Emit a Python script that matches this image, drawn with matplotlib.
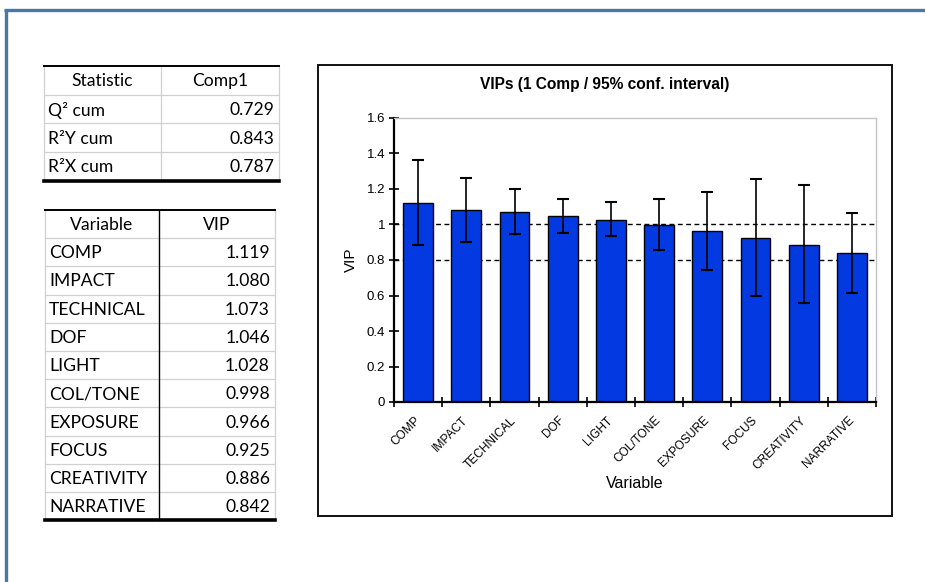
import numpy as np
import matplotlib.pyplot as plt
from matplotlib.patches import Rectangle
from matplotlib.ticker import FixedLocator, NullFormatter

# model summary
stat_names = ['Q² cum', 'R²Y cum', 'R²X cum']
stat_values = [0.729, 0.843, 0.787]

# variable importance with 95% confidence bounds
variables = ['COMP', 'IMPACT', 'TECHNICAL', 'DOF', 'LIGHT', 'COL/TONE',
             'EXPOSURE', 'FOCUS', 'CREATIVITY', 'NARRATIVE']
vip = [1.119, 1.080, 1.073, 1.046, 1.028, 0.998, 0.966, 0.925, 0.886, 0.842]
vip_low = [0.883, 0.904, 0.945, 0.954, 0.935, 0.856, 0.745, 0.597, 0.558, 0.616]
vip_high = [1.362, 1.262, 1.202, 1.142, 1.125, 1.144, 1.183, 1.255, 1.224, 1.067]
ref_lines = [1.0, 0.8]

W, H = 925, 582
fig = plt.figure(figsize=(W / 100, H / 100), dpi=100)

# pixel-space layer for the frame, tables and chart border
bg = fig.add_axes([0, 0, 1, 1])
bg.set_xlim(0, W)
bg.set_ylim(H, 0)
bg.axis('off')

# slide frame
bg.plot([4, W], [10, 10], color='#4a76a8', lw=2.4, solid_capstyle='butt')
bg.plot([6, 6], [10, H], color='#4a76a8', lw=2.4, solid_capstyle='butt')

GRID = '#d0d0d0'
TFONT = dict(family='Lato', fontsize=12.6, color='black')


def draw_table(x0, xd, x1, y0, row_h, header, names, values, div_color):
    n = len(names) + 1
    y_end = y0 + n * row_h
    # inner horizontal rules
    for i in range(1, n):
        y = y0 + i * row_h
        bg.plot([x0, x1], [y, y], color=GRID, lw=0.9)
    # outer verticals and column divider
    bg.plot([x0, x0], [y0, y_end], color=GRID, lw=0.9)
    bg.plot([x1, x1], [y0, y_end], color=GRID, lw=0.9)
    bg.plot([xd, xd], [y0, y_end], color=div_color, lw=1.0 if div_color != GRID else 0.9)
    # header top and heavy bottom rule
    bg.plot([x0, x1], [y0, y0], color='black', lw=1.4)
    bg.plot([x0, x1], [y_end, y_end], color='black', lw=2.6)
    yc = y0 + row_h / 2 + 1
    bg.text((x0 + xd) / 2, yc, header[0], ha='center', va='center', **TFONT)
    bg.text((xd + x1) / 2, yc, header[1], ha='center', va='center', **TFONT)
    for i, (nm, v) in enumerate(zip(names, values)):
        yc = y0 + (i + 1.5) * row_h + 1
        bg.text(x0 + 4, yc, nm, ha='left', va='center', **TFONT)
        bg.text(x1 - 5, yc, f'{v:.3f}', ha='right', va='center', **TFONT)


draw_table(44, 161, 279, 66, 28.7, ('Statistic', 'Comp1'), stat_names, stat_values, GRID)
draw_table(45, 159, 275, 210, 28.2, ('Variable', 'VIP'), variables, vip, 'black')

# chart border and title
bg.add_patch(Rectangle((318, 65), 574, 451, fill=False, edgecolor='#111111', lw=1.4))
bg.text(605, 85, 'VIPs (1 Comp / 95% conf. interval)', ha='center', va='center',
        family='Liberation Sans', fontsize=11.2, fontweight='bold')

# bar chart
px0, px1, py0, py1 = 394, 876, 118, 402
ax = fig.add_axes([px0 / W, 1 - py1 / H, (px1 - px0) / W, (py1 - py0) / H])
x = np.arange(len(variables))
v = np.array(vip)
yerr = [v - np.array(vip_low), np.array(vip_high) - v]
ax.bar(x, v, width=0.62, color='#0339e0', edgecolor='black', linewidth=1.0, zorder=2)
ax.errorbar(x, v, yerr=yerr, fmt='none', ecolor='black', elinewidth=1.2,
            capsize=4, capthick=1.5, zorder=3)
for r in ref_lines:
    ax.axhline(r, color='black', lw=1.0, ls=(0, (3.5, 2.5)), zorder=1)

ax.set_xlim(-0.5, len(variables) - 0.5)
ax.set_ylim(0, 1.6)
ax.set_yticks(np.arange(0, 1.61, 0.2))
ax.set_yticklabels(['0', '0.2', '0.4', '0.6', '0.8', '1', '1.2', '1.4', '1.6'],
                   family='Liberation Sans', fontsize=9.5)
ax.xaxis.set_major_locator(FixedLocator(np.arange(-0.5, len(variables), 1.0)))
ax.xaxis.set_major_formatter(NullFormatter())
ax.set_xticks(x, minor=True)
ax.set_xticklabels(variables, minor=True, rotation=45, ha='right', va='center',
                   rotation_mode='anchor', family='Liberation Sans', fontsize=8.6)
ax.tick_params(axis='x', which='minor', length=0, pad=12)
ax.tick_params(axis='both', which='major', direction='inout', length=7, width=1.2)
ax.tick_params(axis='y', pad=3)

for side in ('left', 'bottom'):
    ax.spines[side].set_linewidth(1.6)
    ax.spines[side].set_color('black')
for side in ('top', 'right'):
    ax.spines[side].set_linewidth(1.0)
    ax.spines[side].set_color('#c4c4c4')

ax.set_ylabel('VIP', family='Liberation Sans', fontsize=11, labelpad=6)
ax.set_xlabel('Variable', family='Liberation Sans', fontsize=11.5, labelpad=3)

fig.savefig('out.png', dpi=100)
